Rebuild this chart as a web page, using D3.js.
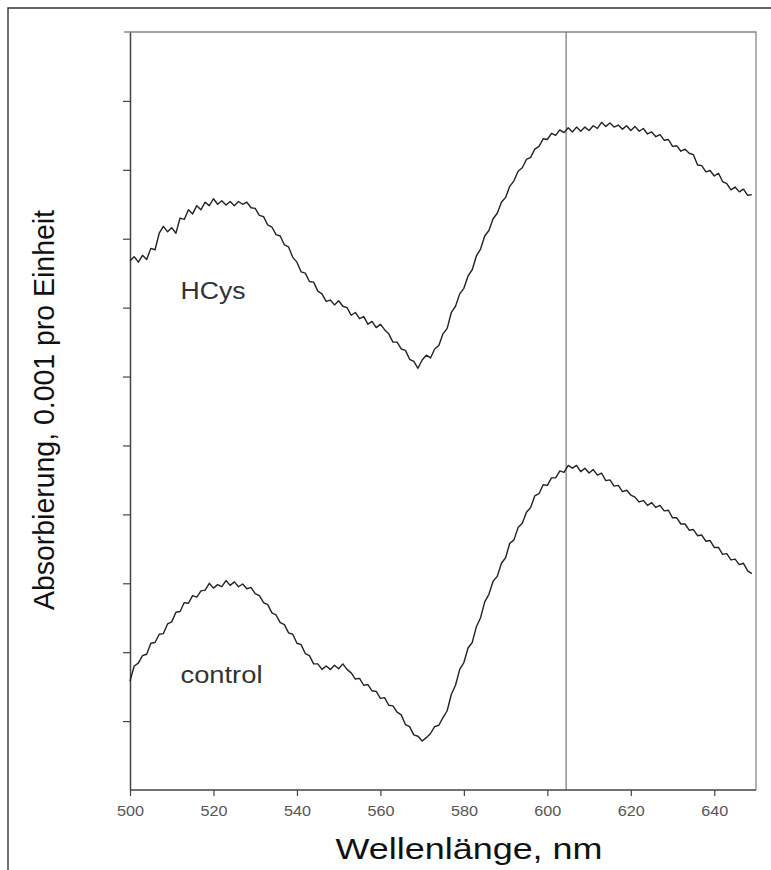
<!DOCTYPE html>
<html>
<head>
<meta charset="utf-8">
<script src="https://cdn.jsdelivr.net/npm/d3@7"></script>
<style>
  html, body { margin: 0; padding: 0; background: #fff; }
  svg { display: block; font-family: "Liberation Sans", Arial, sans-serif; }
</style>
</head>
<body>
<div id="chart"></div>
<script>
// absorption spectra, HCys vs control (values in units of 0.001 absorbance)

const wlStart = 500;            // first wavelength, 1 nm per step
const xTicks = [500, 520, 540, 560, 580, 600, 620, 640];
const yTicks = [1, 2, 3, 4, 5, 6, 7, 8, 9, 10];
const markerNm = 604.5;

const hcys = [
  7.68, 7.74, 7.66, 7.76, 7.70, 7.86, 7.84, 8.08, 8.18, 8.10,
  8.16, 8.08, 8.30, 8.28, 8.42, 8.36, 8.48, 8.42, 8.53, 8.48,
  8.58, 8.50, 8.55, 8.49, 8.54, 8.48, 8.54, 8.50, 8.53, 8.45,
  8.44, 8.34, 8.32, 8.20, 8.17, 8.06, 8.04, 7.91, 7.88, 7.73,
  7.66, 7.52, 7.50, 7.38, 7.37, 7.24, 7.20, 7.09, 7.11, 7.04,
  7.10, 7.02, 7.00, 6.89, 6.93, 6.84, 6.87, 6.76, 6.80, 6.71,
  6.76, 6.68, 6.62, 6.50, 6.50, 6.40, 6.38, 6.25, 6.22, 6.12,
  6.24, 6.31, 6.27, 6.40, 6.45, 6.62, 6.70, 6.93, 7.02, 7.20,
  7.28, 7.46, 7.55, 7.75, 7.85, 8.04, 8.12, 8.29, 8.37, 8.53,
  8.60, 8.76, 8.84, 8.98, 9.03, 9.15, 9.18, 9.30, 9.34, 9.45,
  9.44, 9.53, 9.50, 9.58, 9.54, 9.61, 9.55, 9.62, 9.56, 9.62,
  9.57, 9.64, 9.60, 9.69, 9.63, 9.68, 9.62, 9.65, 9.59, 9.64,
  9.57, 9.63, 9.56, 9.60, 9.52, 9.55, 9.48, 9.51, 9.43, 9.44,
  9.34, 9.35, 9.27, 9.30, 9.24, 9.22, 9.07, 9.06, 8.97, 8.99,
  8.91, 8.95, 8.83, 8.80, 8.71, 8.75, 8.68, 8.72, 8.63, 8.64
];

const control = [
  1.58, 1.80, 1.84, 1.95, 1.97, 2.13, 2.14, 2.26, 2.27, 2.41,
  2.44, 2.58, 2.59, 2.72, 2.71, 2.82, 2.80, 2.89, 2.90, 3.00,
  2.93, 2.98, 2.95, 3.04, 2.97, 3.02, 2.95, 2.99, 2.92, 2.94,
  2.85, 2.82, 2.72, 2.69, 2.57, 2.54, 2.43, 2.40, 2.28, 2.26,
  2.13, 2.11, 1.98, 1.95, 1.83, 1.83, 1.75, 1.80, 1.75, 1.81,
  1.76, 1.83, 1.75, 1.70, 1.61, 1.62, 1.52, 1.53, 1.44, 1.43,
  1.33, 1.34, 1.23, 1.22, 1.13, 1.09, 0.95, 0.92, 0.80, 0.78,
  0.71, 0.76, 0.82, 0.92, 0.94, 1.05, 1.15, 1.39, 1.52, 1.75,
  1.85, 2.06, 2.14, 2.37, 2.50, 2.73, 2.84, 3.03, 3.10, 3.29,
  3.37, 3.58, 3.63, 3.81, 3.87, 4.03, 4.10, 4.27, 4.30, 4.43,
  4.42, 4.53, 4.53, 4.63, 4.61, 4.71, 4.67, 4.71, 4.62, 4.67,
  4.60, 4.65, 4.57, 4.60, 4.49, 4.50, 4.41, 4.42, 4.33, 4.35,
  4.28, 4.25, 4.18, 4.20, 4.13, 4.17, 4.10, 4.13, 4.05, 4.06,
  3.95, 3.95, 3.86, 3.86, 3.77, 3.78, 3.69, 3.70, 3.61, 3.62,
  3.52, 3.52, 3.42, 3.43, 3.34, 3.35, 3.27, 3.29, 3.18, 3.14
];

const curveLabels = [
  { text: 'HCys', nm: 512.1, v: 7.12, len: 65 },
  { text: 'control', nm: 512.1, v: 1.56, len: 82 }
];

const width = 771, height = 870;
const svg = d3.select('#chart').append('svg')
  .attr('width', width)
  .attr('height', height);

const x = d3.scaleLinear().domain([500, 650]).range([130, 756]);
const y = d3.scaleLinear().domain([0, 11]).range([790, 32]);

// outer page border (top and left only)
svg.append('path')
  .attr('d', `M8,${height} L8,8 L${width},8`)
  .attr('fill', 'none')
  .attr('stroke', '#333')
  .attr('stroke-width', 1.4);

// top and right frame of the plot
svg.append('path')
  .attr('d', `M124,${y(11)} L${x(650)},${y(11)} L${x(650)},${y(0)}`)
  .attr('fill', 'none')
  .attr('stroke', '#888')
  .attr('stroke-width', 1.3);

// marker line
svg.append('line')
  .attr('x1', x(markerNm)).attr('x2', x(markerNm))
  .attr('y1', y(11)).attr('y2', y(0))
  .attr('stroke', '#666')
  .attr('stroke-width', 1.1);

// axes
const xAxis = svg.append('g')
  .attr('transform', `translate(0,${y(0)})`)
  .call(d3.axisBottom(x).tickValues(xTicks).tickSize(6).tickPadding(10).tickSizeOuter(0));
xAxis.select('.domain').attr('stroke', '#444').attr('stroke-width', 1.5)
  .attr('d', `M${x(500)},0H${x(650)}`);
xAxis.selectAll('.tick line').attr('stroke', '#444').attr('stroke-width', 1.2);
// the scanned original is stretched sideways, so the labels are widened a little
xAxis.selectAll('.tick text')
  .attr('fill', '#555')
  .attr('font-size', 14)
  .attr('font-family', '"Liberation Sans", Arial, sans-serif')
  .attr('textLength', 27)
  .attr('lengthAdjust', 'spacingAndGlyphs');

const yAxis = svg.append('g')
  .attr('transform', `translate(${x(500)},0)`)
  .call(d3.axisLeft(y).tickValues(yTicks).tickSize(7).tickFormat('').tickSizeOuter(0));
yAxis.select('.domain').attr('stroke', '#444').attr('stroke-width', 1.5);
yAxis.selectAll('.tick line').attr('stroke', '#444').attr('stroke-width', 1.2);

// spectra
const line = d3.line()
  .x((d, i) => x(wlStart + i))
  .y(d => y(d));

[hcys, control].forEach(series => {
  svg.append('path')
    .datum(series)
    .attr('fill', 'none')
    .attr('stroke', '#222')
    .attr('stroke-width', 1.4)
    .attr('stroke-linejoin', 'round')
    .attr('d', line);
});

svg.selectAll('.curve-label')
  .data(curveLabels)
  .enter()
  .append('text')
  .attr('class', 'curve-label')
  .attr('x', d => x(d.nm))
  .attr('y', d => y(d.v))
  .attr('font-size', 23)
  .attr('fill', '#333')
  .attr('textLength', d => d.len)
  .attr('lengthAdjust', 'spacingAndGlyphs')
  .text(d => d.text);

// axis titles
svg.append('text')
  .attr('x', 469)
  .attr('y', 859)
  .attr('text-anchor', 'middle')
  .attr('font-size', 30)
  .attr('fill', '#111')
  .attr('textLength', 267)
  .attr('lengthAdjust', 'spacingAndGlyphs')
  .text('Wellenlänge, nm');

svg.append('text')
  .attr('transform', 'translate(54,410) rotate(-90)')
  .attr('text-anchor', 'middle')
  .attr('font-size', 30)
  .attr('fill', '#111')
  .attr('textLength', 400)
  .attr('lengthAdjust', 'spacingAndGlyphs')
  .text('Absorbierung, 0.001 pro Einheit');
</script>
</body>
</html>
